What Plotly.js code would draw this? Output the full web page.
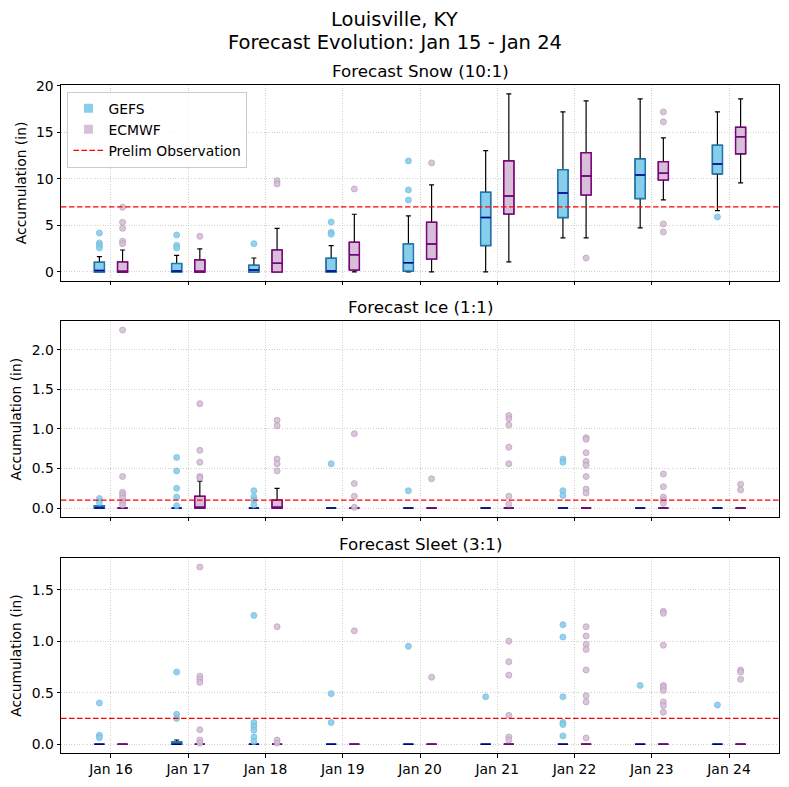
<!DOCTYPE html>
<html>
<head>
<meta charset="utf-8">
<script src="https://cdn.plot.ly/plotly-3.0.1.min.js"></script>
<style>html,body{margin:0;padding:0;background:#fff}</style>
</head>
<body>
<div id="chart" style="width:789px;height:787px"></div>
<script>
// Forecast days (category axis)
const days = ['Jan 16', 'Jan 17', 'Jan 18', 'Jan 19', 'Jan 20', 'Jan 21', 'Jan 22', 'Jan 23', 'Jan 24'];

// ---- Snow (10:1), inches ----
const snowGefsQ1  = [0, 0, 0, 0, 0.1, 2.83, 5.84, 7.88, 10.54];
const snowGefsMed = [0.15, 0.1, 0.2, 0.1, 1.0, 5.84, 8.49, 10.43, 11.61];
const snowGefsQ3  = [1.03, 0.9, 0.71, 1.46, 3.0, 8.56, 10.97, 12.15, 13.61];
const snowGefsLo  = [0, 0, 0, 0, 0, 0, 3.66, 4.73, 6.59];
const snowGefsHi  = [1.65, 1.79, 1.5, 2.83, 6.02, 13.04, 17.2, 18.6, 17.2];
const snowGefsOut = [[4.19, 3.12, 2.86, 2.58], [3.97, 2.86, 2.58], [3.04], [5.37, 4.26, 4.05], [11.93, 8.82, 7.74], [], [], [], [5.91]];

const snowEcmwfQ1  = [0, 0, 0, 0.21, 1.4, 6.23, 8.28, 9.89, 12.69];
const snowEcmwfMed = [0, 0, 0.93, 1.86, 3.0, 8.17, 10.32, 10.6, 14.52];
const snowEcmwfQ3  = [1.07, 1.29, 2.36, 3.18, 5.33, 11.93, 12.8, 11.83, 15.55];
const snowEcmwfLo  = [0, 0, 0, 0, 0, 1.08, 3.66, 7.74, 9.57];
const snowEcmwfHi  = [2.36, 2.47, 4.69, 6.2, 9.35, 19.14, 18.39, 14.41, 18.6];
const snowEcmwfOut = [[6.95, 5.33, 4.69, 3.3, 3.04], [3.83], [9.8, 9.46], [8.92], [11.72], [], [1.5], [17.2, 16.13, 5.16, 4.3], []];

// ---- Ice (1:1), inches ----
const iceGefsQ1  = [0, 0, 0, 0, 0, 0, 0, 0, 0];
const iceGefsMed = [0, 0, 0, 0, 0, 0, 0, 0, 0];
const iceGefsQ3  = [0.03, 0, 0, 0, 0, 0, 0, 0, 0];
const iceGefsLo  = [0, 0, 0, 0, 0, 0, 0, 0, 0];
const iceGefsHi  = [0.03, 0, 0, 0, 0, 0, 0, 0, 0];
const iceGefsOut = [[0.12, 0.07], [0.64, 0.47, 0.25, 0.14, 0.03], [0.22, 0.14, 0.1, 0.04], [0.56], [0.22], [], [0.62, 0.58, 0.22, 0.16], [], []];

const iceEcmwfQ1  = [0, 0, 0, 0, 0, 0, 0, 0, 0];
const iceEcmwfMed = [0, 0, 0, 0, 0, 0, 0, 0, 0];
const iceEcmwfQ3  = [0, 0.15, 0.1, 0, 0, 0, 0, 0, 0];
const iceEcmwfLo  = [0, 0, 0, 0, 0, 0, 0, 0, 0];
const iceEcmwfHi  = [0, 0.34, 0.25, 0, 0, 0, 0, 0, 0];
const iceEcmwfOut = [[2.25, 0.4, 0.2, 0.17, 0.13, 0.07, 0.04], [1.32, 0.73, 0.58, 0.4, 0.38], [1.11, 1.04, 0.62, 0.56, 0.47], [0.94, 0.31, 0.15, 0.01], [0.37], [1.17, 1.13, 1.05, 0.77, 0.56, 0.15, 0.05], [0.89, 0.87, 0.7, 0.59, 0.54, 0.4, 0.24, 0.19], [0.43, 0.27, 0.14, 0.1, 0.06], [0.3, 0.23]];

// ---- Sleet (3:1), inches ----
const sleetGefsQ1  = [0, 0, 0, 0, 0, 0, 0, 0, 0];
const sleetGefsMed = [0, 0, 0, 0, 0, 0, 0, 0, 0];
const sleetGefsQ3  = [0, 0.02, 0, 0, 0, 0, 0, 0, 0];
const sleetGefsLo  = [0, 0, 0, 0, 0, 0, 0, 0, 0];
const sleetGefsHi  = [0, 0.04, 0, 0, 0, 0, 0, 0, 0];
const sleetGefsOut = [[0.4, 0.087, 0.062], [0.7, 0.29, 0.25], [1.25, 0.21, 0.175, 0.136, 0.07, 0.025], [0.49, 0.21], [0.95], [0.46], [1.16, 1.04, 0.46, 0.21, 0.19, 0.08], [0.57], [0.38]];

const sleetEcmwfQ1  = [0, 0, 0, 0, 0, 0, 0, 0, 0];
const sleetEcmwfMed = [0, 0, 0, 0, 0, 0, 0, 0, 0];
const sleetEcmwfQ3  = [0, 0, 0, 0, 0, 0, 0, 0, 0];
const sleetEcmwfLo  = [0, 0, 0, 0, 0, 0, 0, 0, 0];
const sleetEcmwfHi  = [0, 0, 0, 0, 0, 0, 0, 0, 0];
const sleetEcmwfOut = [[], [1.72, 0.66, 0.63, 0.6, 0.14, 0.04, 0.01], [1.14, 0.04, 0.01], [1.1], [0.65], [1.0, 0.8, 0.67, 0.28, 0.07, 0.04], [1.14, 1.05, 0.97, 0.92, 0.72, 0.47, 0.41, 0.06], [1.29, 1.27, 0.96, 0.57, 0.55, 0.52, 0.41, 0.375, 0.31], [0.72, 0.7, 0.63]];

// Preliminary observed totals
const obsSnow = 7.0;
const obsIce = 0.1;
const obsSleet = 0.25;

// ---------------------------------------------------------------
const FONT = 'DejaVu Sans, Verdana, sans-serif';
const BOX_OFFSET = 0.15;
const BOX_WIDTH = 0.13;

const styles = {
  GEFS:  {off: -BOX_OFFSET, fill: '#87ceeb', edge: '#1f77b4', median: '#00008b', pt: '#87ceeb', ptEdge: '#70b9de'},
  ECMWF: {off:  BOX_OFFSET, fill: '#d8bfd8', edge: '#800080', median: '#6a0a7a', pt: '#d6bfd8', ptEdge: '#b59db7'}
};

const panels = [
  {ax: '', title: 'Forecast Snow (10:1)', obs: obsSnow, range: [-0.957, 20.09], dtick: 5, fmt: 'd',
   GEFS:  {q1: snowGefsQ1, med: snowGefsMed, q3: snowGefsQ3, lo: snowGefsLo, hi: snowGefsHi, out: snowGefsOut},
   ECMWF: {q1: snowEcmwfQ1, med: snowEcmwfMed, q3: snowEcmwfQ3, lo: snowEcmwfLo, hi: snowEcmwfHi, out: snowEcmwfOut}},
  {ax: '2', title: 'Forecast Ice (1:1)', obs: obsIce, range: [-0.1125, 2.3625], dtick: 0.5, fmt: '.1f',
   GEFS:  {q1: iceGefsQ1, med: iceGefsMed, q3: iceGefsQ3, lo: iceGefsLo, hi: iceGefsHi, out: iceGefsOut},
   ECMWF: {q1: iceEcmwfQ1, med: iceEcmwfMed, q3: iceEcmwfQ3, lo: iceEcmwfLo, hi: iceEcmwfHi, out: iceEcmwfOut}},
  {ax: '3', title: 'Forecast Sleet (3:1)', obs: obsSleet, range: [-0.086, 1.806], dtick: 0.5, fmt: '.1f',
   GEFS:  {q1: sleetGefsQ1, med: sleetGefsMed, q3: sleetGefsQ3, lo: sleetGefsLo, hi: sleetGefsHi, out: sleetGefsOut},
   ECMWF: {q1: sleetEcmwfQ1, med: sleetEcmwfMed, q3: sleetEcmwfQ3, lo: sleetEcmwfLo, hi: sleetEcmwfHi, out: sleetEcmwfOut}}
];

const dayIdx = days.map((d, i) => i);
const traces = [];

panels.forEach(p => {
  ['GEFS', 'ECMWF'].forEach(model => {
    const s = styles[model];
    const d = p[model];
    const xs = dayIdx.map(i => i + s.off);
    const common = {type: 'box', x: xs, xaxis: 'x' + p.ax, yaxis: 'y' + p.ax, width: BOX_WIDTH,
                    boxpoints: false, hoverinfo: 'skip', showlegend: false};
    // whiskers and caps
    traces.push(Object.assign({}, common, {
      q1: d.q1, median: d.med, q3: d.q3, lowerfence: d.lo, upperfence: d.hi,
      whiskerwidth: 0.5, fillcolor: 'rgba(0,0,0,0)', line: {color: '#000', width: 1.2}
    }));
    // interquartile box
    traces.push(Object.assign({}, common, {
      q1: d.q1, median: d.med, q3: d.q3, lowerfence: d.q1, upperfence: d.q3,
      whiskerwidth: 0, fillcolor: s.fill, line: {color: s.edge, width: 1.5}
    }));
    // median line
    traces.push(Object.assign({}, common, {
      q1: d.med, median: d.med, q3: d.med, lowerfence: d.med, upperfence: d.med,
      whiskerwidth: 0, fillcolor: 'rgba(0,0,0,0)', line: {color: s.median, width: 1.5}
    }));
    // outliers
    const ox = [], oy = [];
    d.out.forEach((vals, i) => vals.forEach(v => { ox.push(i + s.off); oy.push(v); }));
    traces.push({
      type: 'scatter', mode: 'markers', x: ox, y: oy, xaxis: 'x' + p.ax, yaxis: 'y' + p.ax,
      marker: {symbol: 'circle', size: 6, color: s.pt, opacity: 0.9, line: {color: s.ptEdge, width: 0.8}},
      hoverinfo: 'skip', showlegend: false
    });
  });
});

// legend entries
traces.push({type: 'scatter', mode: 'markers', x: [null], y: [null], name: 'GEFS',
  marker: {symbol: 'square', size: 9, color: '#87ceeb'}, showlegend: true});
traces.push({type: 'scatter', mode: 'markers', x: [null], y: [null], name: 'ECMWF',
  marker: {symbol: 'square', size: 9, color: '#d8bfd8'}, showlegend: true});
traces.push({type: 'scatter', mode: 'lines', x: [null], y: [null], name: 'Prelim Observation',
  line: {color: 'red', width: 1.3, dash: '5.5px,2.5px'}, showlegend: true});

const domains = [[0.7068, 1], [0.3533, 0.6464], [0, 0.2917]];
const tickFont = {family: FONT, size: 13.9, color: '#000'};
const titleFont = {family: FONT, size: 19.5, color: '#000'};

// figure heading: two lines centred on the whole figure
const FIG_W = 789, M_L = 61, M_R = 10, M_T = 85, M_B = 34;
const plotW = FIG_W - M_L - M_R, plotH = 787 - M_T - M_B;
const figCentre = (FIG_W / 2 - M_L) / plotW;

const layout = {
  width: FIG_W, height: 787,
  margin: {l: M_L, r: M_R, t: M_T, b: M_B},
  paper_bgcolor: '#fff', plot_bgcolor: '#fff',
  font: {family: FONT, color: '#000'},
  boxmode: 'overlay',
  showlegend: true,
  legend: {x: 0.009, y: 0.99, xanchor: 'left', yanchor: 'top', xref: 'paper', yref: 'paper',
           bgcolor: 'rgba(255,255,255,0.8)', bordercolor: '#cccccc', borderwidth: 1,
           font: {family: FONT, size: 13.9, color: '#000'}},
  shapes: [],
  annotations: [
    {text: 'Louisville, KY', xref: 'paper', x: figCentre, xanchor: 'center',
     yref: 'paper', y: 1 + (M_T - 20) / plotH, yanchor: 'middle', showarrow: false, font: titleFont},
    {text: 'Forecast Evolution: Jan 15 - Jan 24', xref: 'paper', x: figCentre, xanchor: 'center',
     yref: 'paper', y: 1 + (M_T - 42) / plotH, yanchor: 'middle', showarrow: false, font: titleFont}
  ]
};

panels.forEach((p, k) => {
  const axCommon = {showline: true, mirror: true, linecolor: '#000', linewidth: 1,
    ticks: 'outside', ticklen: 3.5, tickwidth: 1, tickcolor: '#000',
    showgrid: true, gridcolor: '#c4c4c4', gridwidth: 0.8, griddash: '1px,1.6px', zeroline: false,
    tickfont: tickFont};
  layout['xaxis' + p.ax] = Object.assign({}, axCommon, {
    anchor: 'y' + p.ax, domain: [0, 1], range: [-0.647, 8.647],
    tickmode: 'array', tickvals: dayIdx, ticktext: days, showticklabels: k === 2
  });
  layout['yaxis' + p.ax] = Object.assign({}, axCommon, {
    anchor: 'x' + p.ax, domain: domains[k], range: p.range, dtick: p.dtick, tick0: 0,
    tickformat: p.fmt,
    title: {text: 'Accumulation (in)', font: {family: FONT, size: 13.9, color: '#000'}, standoff: 6}
  });
  layout.shapes.push({type: 'line', xref: 'paper', x0: 0, x1: 1, yref: 'y' + p.ax, y0: p.obs, y1: p.obs,
    line: {color: 'red', width: 1.3, dash: '5.5px,2.5px'}, layer: 'above'});
  layout.annotations.push({text: p.title, xref: 'paper', x: 0.5, xanchor: 'center',
    yref: 'paper', y: domains[k][1], yanchor: 'bottom', yshift: 2, showarrow: false,
    font: {family: FONT, size: 16.7, color: '#000'}});
});

Plotly.newPlot('chart', traces, layout, {displayModeBar: false, staticPlot: true});
</script>
</body>
</html>
